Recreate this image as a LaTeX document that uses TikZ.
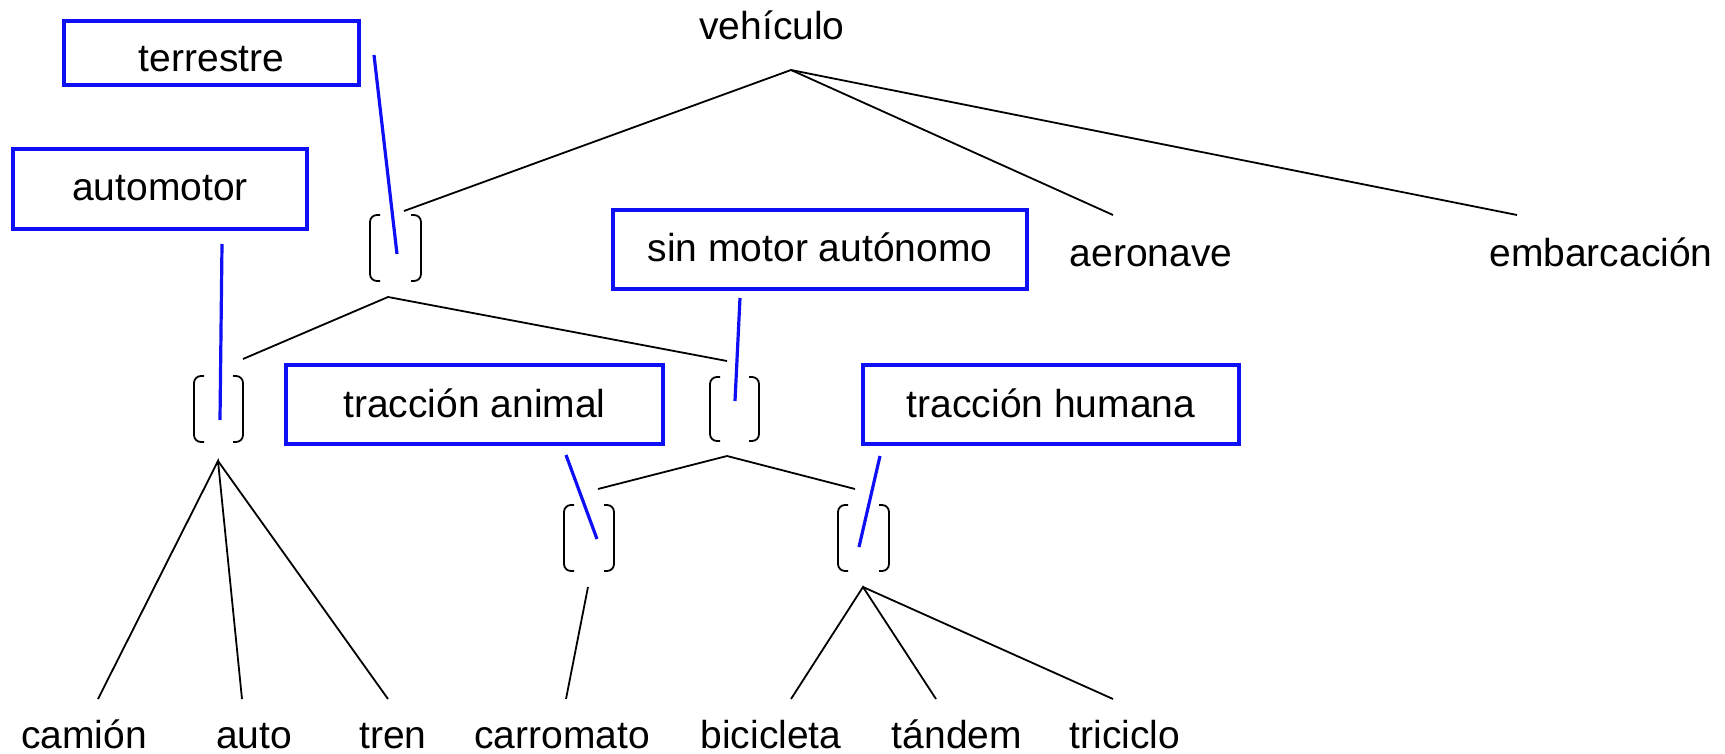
\documentclass[tikz,border=0pt]{standalone}
\usepackage{fontspec}
\setmainfont{Liberation Sans}
\definecolor{tagblue}{RGB}{15,15,245}
\newcommand{\brkpair}[5]{%
  \draw[brk] (#2+10,#3) -- (#2,#3) -- (#2,#5) -- (#2+10,#5);
  \draw[brk] (#4-10,#3) -- (#4,#3) -- (#4,#5) -- (#4-10,#5);
  \coordinate (#1) at ({(#2+#4)/2},{(#3+#5)/2});}
\begin{document}
\begin{tikzpicture}[x=0.5pt,y=-0.5pt,
  lbl/.style={font=\fontsize{19.5}{23}\selectfont, inner sep=0pt, anchor=base},
  tagbox/.style={draw=tagblue, line width=1.6pt, inner sep=0pt,
    font=\fontsize{19.5}{23}\selectfont, text height=12.5pt, text depth=0pt},
  edge/.style={line width=0.9pt},
  tagline/.style={draw=tagblue, line width=1.6pt},
  brk/.style={line width=0.9pt, rounded corners=3.5pt}]
\useasboundingbox (0,0) rectangle (1725,754);

% text labels
\node[lbl] (veh) at (772,40) {vehículo};
\node[lbl] (aero) at (1151,267) {aeronave};
\node[lbl] (emb) at (1601,267) {embarcación};
\node[lbl] (cam) at (84,748) {camión};
\node[lbl] (auto) at (254,748) {auto};
\node[lbl] (tren) at (393,748) {tren};
\node[lbl] (carr) at (562,748) {carromato};
\node[lbl] (bici) at (771,748) {bicicleta};
\node[lbl] (tand) at (957,748) {tándem};
\node[lbl] (tric) at (1125,748) {triciclo};

% blue tag boxes (sizes in pt = px/2)
\node[tagbox, minimum width=147.5pt, minimum height=32pt, text height=19pt] (terr) at (211.5,53) {terrestre};
\node[tagbox, minimum width=147pt, minimum height=40pt, text height=11.5pt] (automot) at (160,189) {automotor};
\node[tagbox, minimum width=207pt, minimum height=39.5pt] (sinmot) at (820,249.5) {sin motor autónomo};
\node[tagbox, minimum width=188.5pt, minimum height=39.5pt] (tanim) at (474.5,404.5) {tracción animal};
\node[tagbox, minimum width=188pt, minimum height=39.5pt] (thum) at (1051,404.5) {tracción humana};

% brackets
\brkpair{b1}{370}{215}{421}{281}
\brkpair{b2}{194}{376}{243}{442}
\brkpair{b3}{710}{377}{759}{441}
\brkpair{b4}{564}{505}{614}{571}
\brkpair{b5}{838}{505}{889}{571}

% connector end points
\coordinate (vA) at (791,70);
\coordinate (b1in) at (404,211);
\coordinate (aeroT) at (1113,215);
\coordinate (embT) at (1517,215);
\coordinate (b1A) at (388,297);
\coordinate (b2in) at (243,359);
\coordinate (b3in) at (727,361);
\coordinate (b2A) at (218,461);
\coordinate (camT) at (98,699);
\coordinate (autoT) at (242,699);
\coordinate (trenT) at (388,699);
\coordinate (b3A) at (727,456);
\coordinate (b4in) at (598,489);
\coordinate (b5in) at (855,489);
\coordinate (b4A) at (588,587);
\coordinate (carrT) at (566,699);
\coordinate (b5A) at (863,587);
\coordinate (biciT) at (791,699);
\coordinate (tandT) at (936,699);
\coordinate (tricT) at (1113,699);

% tree edges
\draw[edge] (b1in) -- (vA) -- (aeroT);
\draw[edge] (vA) -- (embT);
\draw[edge] (b2in) -- (b1A) -- (b3in);
\draw[edge] (camT) -- (b2A) -- (autoT);
\draw[edge] (b2A) -- (trenT);
\draw[edge] (b4in) -- (b3A) -- (b5in);
\draw[edge] (b4A) -- (carrT);
\draw[edge] (biciT) -- (b5A) -- (tandT);
\draw[edge] (b5A) -- (tricT);

% blue tag lines
\coordinate (terrL) at (374,55);   \coordinate (terrE) at (397,254);
\coordinate (autoL) at (222,244);  \coordinate (autoE) at (220,420);
\coordinate (sinL) at (740,298);   \coordinate (sinE) at (735,401);
\coordinate (animL) at (566,455);  \coordinate (animE) at (597,539);
\coordinate (humL) at (880,456);   \coordinate (humE) at (859,547);
\draw[tagline] (terrL) -- (terrE);
\draw[tagline] (autoL) -- (autoE);
\draw[tagline] (sinL) -- (sinE);
\draw[tagline] (animL) -- (animE);
\draw[tagline] (humL) -- (humE);
\end{tikzpicture}
\end{document}
